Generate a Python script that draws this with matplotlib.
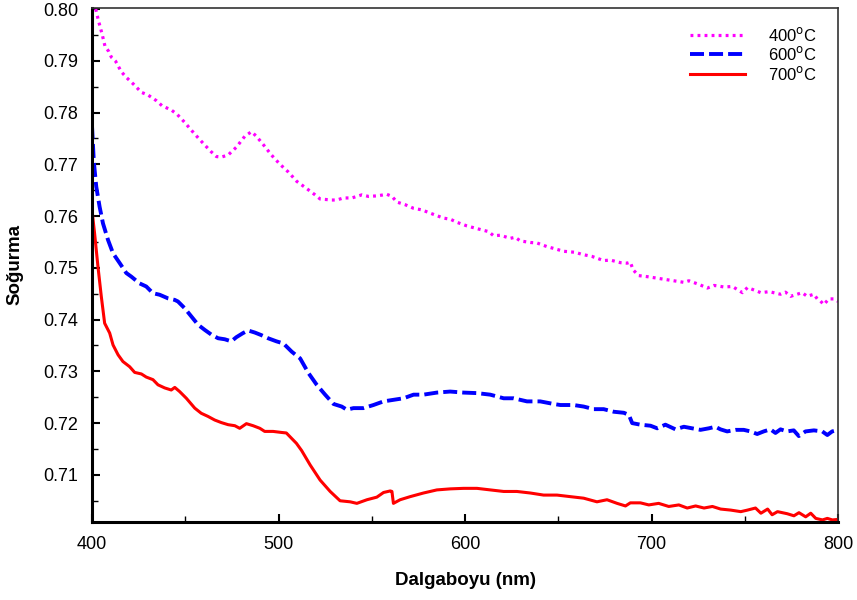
import matplotlib
matplotlib.use("Agg")
import matplotlib.pyplot as plt
from matplotlib.ticker import MultipleLocator

plt.rcParams['font.family'] = ['Liberation Sans', 'DejaVu Sans']

# Absorbance spectra (wavelength in nm, absorbance)
wl_400 = [402, 403.6, 405.4, 407, 409, 410.4, 412.7, 415.7, 418.4, 422.5, 426.5, 430,
          434.5, 437.6, 442.5, 445.8, 449.7, 454.7, 459.5, 463.7, 466.7, 469.4, 473,
          477.4, 481.9, 485.5, 488.2, 492.3, 496.2, 500.8, 505.3, 509.8, 514.8, 519.6,
          522.3, 528.6, 531.2, 534.8, 539.3, 544.7, 548.2, 552.7, 558.1, 560.8, 563.5,
          567.9, 572.4, 576.8, 580.4, 584, 588.5, 592.1, 595.6, 601, 607.2, 612.6, 615.3,
          618.9, 624.2, 626.9, 629.6, 635, 638.6, 643.9, 648, 652.8, 659.1, 662.7, 668.1,
          674.3, 677.9, 683.3, 686.8, 688.6, 690.1, 693.1, 697.6, 703, 708.3, 711.9,
          717.3, 720, 725.4, 729.9, 733.5, 738.9, 743.3, 748.7, 751.4, 755, 758.6, 763,
          769.1, 771.8, 774.5, 780.7, 783.4, 787, 788.8, 790.5, 792.3, 795, 797.7, 800]
abs_400 = [0.8000, 0.7976, 0.7952, 0.7928, 0.7918, 0.7907, 0.7899, 0.7879, 0.7868, 0.7854,
           0.7839, 0.7834, 0.7823, 0.7813, 0.7805, 0.7796, 0.7781, 0.7760, 0.7741, 0.7725,
           0.7715, 0.7714, 0.7718, 0.7733, 0.7754, 0.7763, 0.7754, 0.7736, 0.7718, 0.7700,
           0.7685, 0.7667, 0.7654, 0.7641, 0.7633, 0.7631, 0.7631, 0.7635, 0.7635, 0.7641,
           0.7638, 0.7639, 0.7642, 0.7638, 0.7627, 0.7622, 0.7615, 0.7612, 0.7607, 0.7602,
           0.7596, 0.7594, 0.7588, 0.7581, 0.7575, 0.7570, 0.7562, 0.7563, 0.7557, 0.7559,
           0.7552, 0.7549, 0.7548, 0.7541, 0.7537, 0.7532, 0.7530, 0.7526, 0.7522, 0.7514,
           0.7515, 0.7510, 0.7509, 0.7511, 0.7496, 0.7485, 0.7483, 0.7480, 0.7477, 0.7475,
           0.7472, 0.7475, 0.7468, 0.7461, 0.7466, 0.7463, 0.7464, 0.7452, 0.7462, 0.7457,
           0.7452, 0.7454, 0.7449, 0.7453, 0.7445, 0.7452, 0.7445, 0.7449, 0.7440, 0.7436,
           0.7429, 0.7440, 0.7440, 0.7435]

wl_600 = [400, 401, 402.3, 404.1, 405.9, 408.6, 411.3, 414.9, 418.4, 421.1, 425.5, 429.1,
          432.7, 436.3, 440.8, 444.4, 446.1, 449.7, 453.3, 456.9, 460.5, 464, 467.6, 471.2,
          474.7, 477.4, 481, 483.7, 487.3, 490.8, 494.4, 498.9, 502.6, 507.1, 511.6, 516,
          520.5, 525, 529.5, 533.9, 536.6, 540.2, 545.5, 550.9, 556.3, 561.6, 567, 572.4,
          577.7, 584.9, 592, 599.2, 606.4, 613.5, 620.7, 626, 633.2, 640.3, 647.5, 651.1,
          658.2, 663.6, 669, 674.3, 679.7, 685.1, 687.8, 689.6, 694, 699.4, 703, 707.4,
          712.8, 717.3, 721.7, 726.2, 730.7, 734.2, 736.9, 740.5, 745, 749.4, 753, 756.6,
          760.1, 763.7, 766.4, 769.1, 772.6, 776.2, 778.9, 782.5, 787, 791.5, 794.2, 796.8,
          800]
abs_600 = [0.7776, 0.7705, 0.7657, 0.7618, 0.7586, 0.7554, 0.7528, 0.7509, 0.7490, 0.7483,
           0.7470, 0.7464, 0.7451, 0.7448, 0.7441, 0.7438, 0.7435, 0.7422, 0.7406, 0.7390,
           0.7380, 0.7371, 0.7364, 0.7362, 0.7358, 0.7366, 0.7374, 0.7379, 0.7375, 0.7370,
           0.7364, 0.7358, 0.7354, 0.7338, 0.7325, 0.7297, 0.7274, 0.7255, 0.7237, 0.7232,
           0.7226, 0.7229, 0.7229, 0.7235, 0.7242, 0.7245, 0.7248, 0.7255, 0.7255, 0.7259,
           0.7261, 0.7259, 0.7258, 0.7255, 0.7248, 0.7248, 0.7242, 0.7242, 0.7237, 0.7235,
           0.7235, 0.7232, 0.7227, 0.7227, 0.7222, 0.7220, 0.7216, 0.7200, 0.7197, 0.7195,
           0.7190, 0.7197, 0.7188, 0.7193, 0.7190, 0.7187, 0.7190, 0.7193, 0.7188, 0.7184,
           0.7187, 0.7187, 0.7184, 0.7179, 0.7184, 0.7188, 0.7181, 0.7188, 0.7184, 0.7186,
           0.7175, 0.7184, 0.7186, 0.7184, 0.7177, 0.7184, 0.7187]

wl_700 = [400, 401.4, 403.2, 405, 406.8, 409.5, 411.3, 414, 416.6, 420.2, 422.9, 426.5,
          429.1, 432.7, 435.4, 439, 442.5, 444.4, 447, 450.6, 455.1, 458.6, 462.2, 465.8,
          469.4, 473, 476.6, 479.2, 482.8, 486.4, 490, 492.6, 497.1, 501.6, 504.2, 506.9,
          509.6, 512.4, 517, 522.3, 527.7, 533, 538.4, 542, 547.4, 552.7, 556.3, 559.9,
          560.8, 561.6, 565.2, 570.6, 577.7, 584.9, 592.1, 599.2, 606.4, 613.5, 620.7,
          627.8, 635, 642.1, 649.3, 656.4, 663.6, 670.7, 676.1, 681.5, 686, 688.6, 694,
          698.5, 703.8, 709.2, 714.6, 719.1, 723.6, 728.1, 732.6, 737, 742.4, 747.8, 751.4,
          755.7, 758.6, 762.2, 764.6, 767.5, 772.7, 776.3, 779, 782.6, 785.3, 788, 791.6,
          794.2, 796.9, 800]
abs_700 = [0.7612, 0.7567, 0.7503, 0.7445, 0.7393, 0.7374, 0.7351, 0.7332, 0.7319, 0.7309,
           0.7298, 0.7295, 0.7289, 0.7284, 0.7274, 0.7268, 0.7264, 0.7269, 0.7261, 0.7248,
           0.7229, 0.7219, 0.7213, 0.7206, 0.7201, 0.7197, 0.7195, 0.7190, 0.7199, 0.7195,
           0.7190, 0.7184, 0.7184, 0.7182, 0.7181, 0.7171, 0.7161, 0.7147, 0.7119, 0.7090,
           0.7068, 0.7050, 0.7048, 0.7045, 0.7052, 0.7057, 0.7066, 0.7069, 0.7068, 0.7045,
           0.7052, 0.7058, 0.7065, 0.7071, 0.7073, 0.7074, 0.7074, 0.7071, 0.7068, 0.7068,
           0.7065, 0.7061, 0.7061, 0.7058, 0.7055, 0.7048, 0.7052, 0.7045, 0.7040, 0.7046,
           0.7046, 0.7042, 0.7045, 0.7039, 0.7042, 0.7036, 0.7040, 0.7036, 0.7039, 0.7034,
           0.7032, 0.7029, 0.7032, 0.7036, 0.7026, 0.7034, 0.7023, 0.7029, 0.7025, 0.7021,
           0.7027, 0.7019, 0.7026, 0.7016, 0.7013, 0.7016, 0.7013, 0.7014]

labels = ['400$^{\\mathrm{o}}$C', '600$^{\\mathrm{o}}$C', '700$^{\\mathrm{o}}$C']

fig = plt.figure(figsize=(8.57, 6.0), dpi=100)
ax = fig.add_axes([0.1073, 0.13, 0.8707, 0.8567])

ax.plot(wl_400, abs_400, color='#FF00FF', lw=2.3, linestyle=(0, (0.9, 1.3)),
        label=labels[0])
ax.plot(wl_600, abs_600, color='#0000FF', lw=2.8, linestyle=(0, (3.6, 1.3)),
        label=labels[1])
ax.plot(wl_700, abs_700, color='#FF0000', lw=2.2, label=labels[2])

ax.set_xlim(400, 800)
ax.set_ylim(0.7009, 0.8002)
ax.xaxis.set_major_locator(MultipleLocator(100))
ax.xaxis.set_minor_locator(MultipleLocator(50))
ax.yaxis.set_major_locator(MultipleLocator(0.01))
ax.yaxis.set_minor_locator(MultipleLocator(0.005))
ax.yaxis.set_major_formatter(plt.FuncFormatter(lambda v, p: f'{v:.2f}'))

ax.tick_params(which='both', direction='in', labelsize=13, colors='black')
ax.tick_params(which='major', length=6, width=1.5)
ax.tick_params(which='minor', length=4, width=1.0)
ax.tick_params(axis='x', pad=10)
ax.tick_params(axis='y', pad=10)

for side in ('left', 'bottom'):
    ax.spines[side].set_linewidth(2.2)
    ax.spines[side].set_color('black')
for side in ('top', 'right'):
    ax.spines[side].set_linewidth(1.2)
    ax.spines[side].set_color('#333333')

ax.set_xlabel('Dalgaboyu (nm)', fontsize=13.5, fontweight='bold', labelpad=14)
ax.set_ylabel('Soğurma', fontsize=13.5, fontweight='bold', labelpad=14)

ax.legend(loc='upper right', bbox_to_anchor=(0.992, 0.995), frameon=False,
          fontsize=12, handlelength=3.3, handletextpad=1.4, labelspacing=0.1)

fig.savefig('out.png', dpi=100)
